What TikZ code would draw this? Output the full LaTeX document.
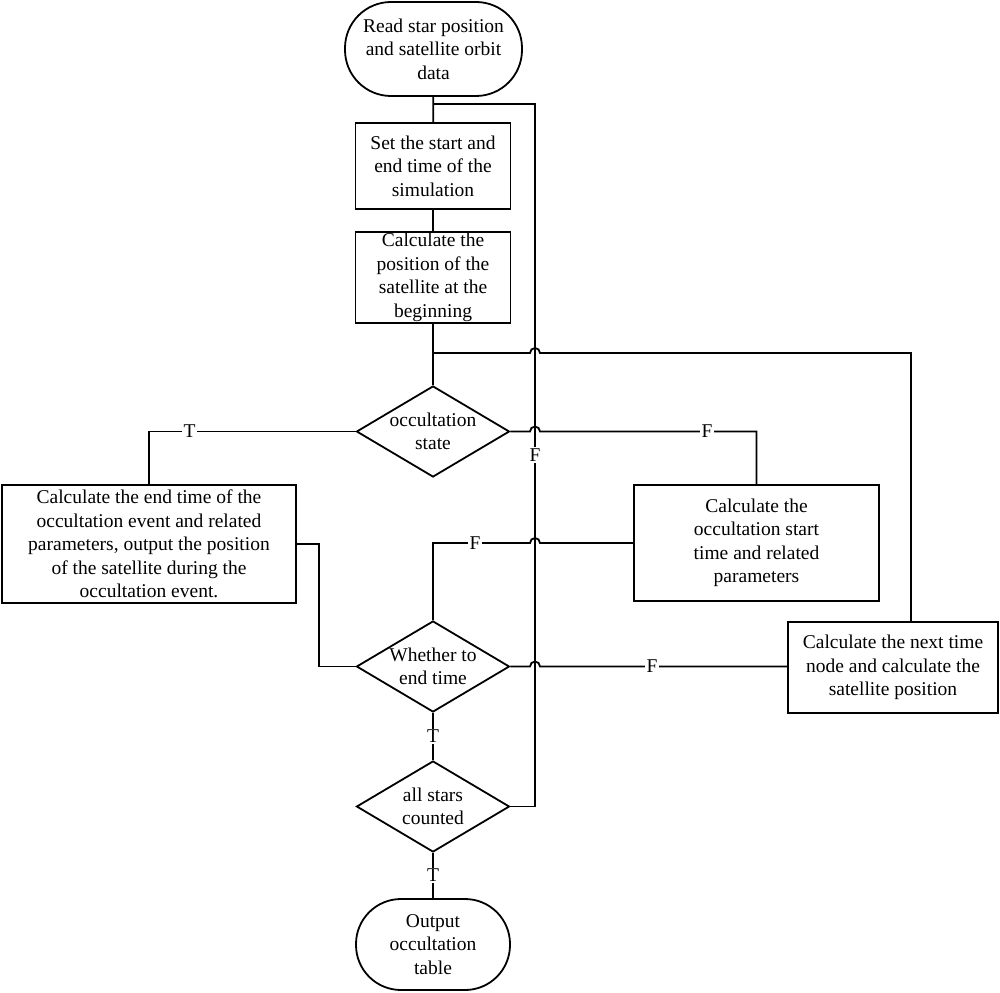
\documentclass[tikz,border=0pt]{standalone}
\usepackage{fontspec}
\setmainfont{Liberation Serif}
\usetikzlibrary{shapes.geometric,calc}
\begin{document}
\begin{tikzpicture}[x=1pt,y=1pt,
  every node/.style={font=\fontsize{19.5}{23.5}\selectfont},
  line/.style={line width=1.8pt},
  procbox/.style={draw,line width=1.8pt,rectangle,inner sep=0pt,align=center},
  termbox/.style={draw,line width=1.8pt,rectangle,inner sep=0pt,align=center},
  decbox/.style={draw,line width=1.8pt,diamond,inner sep=0pt,minimum width=153pt,minimum height=91pt,aspect=1.68},
  dectext/.style={align=center,inner sep=0pt},
  lbl/.style={fill=white,inner sep=1.5pt}]
\useasboundingbox (0,0) rectangle (1000,-992);
% nodes
\node[termbox,minimum width=177pt,minimum height=94pt,rounded corners=46pt] (start) at (433.5,-49) {Read star position\\and satellite orbit\\data};
\node[procbox,minimum width=155pt,minimum height=86pt] (b1) at (433,-166) {Set the start and\\end time of the\\simulation};
\node[procbox,minimum width=155pt,minimum height=91pt] (b2) at (433,-277.5) {Calculate the\\position of the\\satellite at the\\beginning};
\node[decbox] (d1) at (433,-431.5) {};
\node[dectext] (t1) at (d1) {occultation\\state};
\node[procbox,minimum width=294pt,minimum height=118pt] (b3) at (149,-544) {Calculate the end time of the\\occultation event and related\\parameters, output the position\\of the satellite during the\\occultation event.};
\node[procbox,minimum width=245pt,minimum height=116pt] (b4) at (756.5,-543) {Calculate the\\occultation start\\time and related\\parameters};
\node[decbox] (d2) at (433,-666.5) {};
\node[dectext] (t2) at (d2) {Whether to\\end time};
\node[procbox,minimum width=210pt,minimum height=91pt] (b5) at (893,-667.5) {Calculate the next time\\node and calculate the\\satellite position};
\node[decbox] (d3) at (433,-806.5) {};
\node[dectext] (t3) at (d3) {all stars\\counted};
\node[termbox,minimum width=154pt,minimum height=91pt,rounded corners=45pt] (stop) at (433,-944.5) {Output\\occultation\\table};
% helper coordinates
\coordinate (j1) at (433,-104);
\coordinate (vl) at (535,-104);
\coordinate (j2) at (433,-353);
\coordinate (k) at (911,-353);
\coordinate (m) at (319,-544);
% connectors
\draw[line] (start) -- (b1);
\draw[line] (b1) -- (b2);
\draw[line] (b2) -- (d1);
% loop from all stars counted
\draw[line] (d3.east) -- (d3.east -| vl) -- (vl) -- (j1);
\node[lbl] (fv) at (535,-455) {F};
% junction to next time node loop
\draw[line] (j2) -- ($(vl |- j2)+(-5,0)$) arc[start angle=180,end angle=0,radius=5pt] -- (k) -- (k |- b5.north);
% occultation state T
\draw[line] (d1.west) -| node[lbl,pos=0.402]{T} (b3.north);
% occultation state F
\draw[line] (d1.east) -- ($(vl |- d1.east)+(-5,0)$) arc[start angle=180,end angle=0,radius=5pt] -- (d1.east -| b4.north) -- (b4.north);
\node[lbl] (f1) at (707,-431.5) {F};
% b3 to d2
\draw[line] (b3.east) -- (m) -- (m |- d2.west) -- (d2.west);
% d2 top to b4
\draw[line] (d2.north) -- (d2.north |- b4.west) -- ($(vl |- b4.west)+(-5,0)$) arc[start angle=180,end angle=0,radius=5pt] -- (b4.west);
\node[lbl] (f2) at (475,-543) {F};
% d2 to b5
\draw[line] (d2.east) -- ($(vl |- d2.east)+(-5,0)$) arc[start angle=180,end angle=0,radius=5pt] -- (d2.east -| b5.west);
\node[lbl] (f3) at (652,-666.5) {F};
% T connectors
\draw[line] (d2.south) -- node[lbl]{T} (d3.north);
\draw[line] (d3.south) -- node[lbl]{T} (stop.north);
\end{tikzpicture}
\end{document}
